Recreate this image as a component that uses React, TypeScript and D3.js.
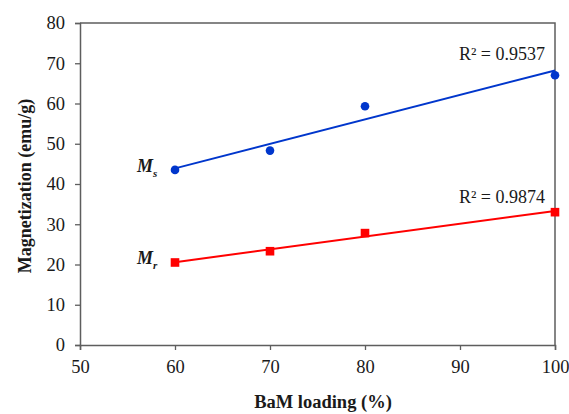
import React from "react";
import * as d3 from "d3";

const loading = [60, 70, 80, 100];
const msValues = [43.5, 48.3, 59.3, 67.0];
const mrValues = [20.5, 23.3, 27.8, 33.0];
const xTicks = [50, 60, 70, 80, 90, 100];
const yTicks = [0, 10, 20, 30, 40, 50, 60, 70, 80];
const r2Labels = ["R² = 0.9537", "R² = 0.9874"];

const width = 569, height = 414;
const margin = { left: 80, right: 14, top: 23, bottom: 69 };
const font = "Liberation Serif";

// least squares line through the points
const fit = (xs, ys) => {
  const mx = d3.mean(xs), my = d3.mean(ys);
  const sxy = d3.sum(xs, (x, i) => (x - mx) * (ys[i] - my));
  const sxx = d3.sum(xs, x => (x - mx) ** 2);
  const slope = sxy / sxx;
  return x => my + slope * (x - mx);
};

const App = () => {
  const ref = React.useRef(null);

  React.useEffect(() => {
    const svg = d3.select(ref.current);
    svg.selectAll("*").remove();
    const x = d3.scaleLinear([50, 100], [margin.left, width - margin.right]);
    const y = d3.scaleLinear([0, 80], [height - margin.bottom, margin.top]);
    const axisColor = "#5e5e5e";

    const xAxis = svg.append("g")
      .attr("transform", `translate(0,${height - margin.bottom})`)
      .call(d3.axisBottom(x).tickValues(xTicks).tickSize(5).tickPadding(10));
    const yAxis = svg.append("g")
      .attr("transform", `translate(${margin.left},0)`)
      .call(d3.axisLeft(y).tickValues(yTicks).tickSize(5).tickPadding(10));
    [xAxis, yAxis].forEach(g => {
      g.attr("font-family", font).attr("font-size", 18);
      g.select(".domain").attr("stroke", axisColor).attr("stroke-width", 1.5);
      g.selectAll(".tick line").attr("stroke", axisColor).attr("stroke-width", 1.3);
      g.selectAll(".tick text").attr("fill", "#1a1a1a")
        .style("font-family", font).style("font-size", "18.5px");
    });

    // frame top and right
    svg.append("path")
      .attr("d", `M${margin.left},${margin.top}H${width - margin.right}V${height - margin.bottom}`)
      .attr("fill", "none").attr("stroke", axisColor).attr("stroke-width", 1.5);

    const series = [
      { values: msValues, color: "#0036cc", shape: "circle", label: "s", r2: r2Labels[0], dy: 10 },
      { values: mrValues, color: "#ff0000", shape: "square", label: "r", r2: r2Labels[1], dy: 8 }
    ];

    series.forEach(s => {
      const f = fit(loading, s.values);
      svg.append("line")
        .attr("x1", x(60)).attr("y1", y(f(60)))
        .attr("x2", x(100)).attr("y2", y(f(100)))
        .attr("stroke", s.color).attr("stroke-width", 2);

      if (s.shape === "circle") {
        svg.selectAll(null).data(loading).join("circle")
          .attr("cx", d => x(d)).attr("cy", (d, i) => y(s.values[i]))
          .attr("r", 4.3).attr("fill", s.color);
      } else {
        svg.selectAll(null).data(loading).join("rect")
          .attr("x", d => x(d) - 4.3).attr("y", (d, i) => y(s.values[i]) - 4.3)
          .attr("width", 8.6).attr("height", 8.6).attr("fill", s.color);
      }

      svg.append("text")
        .attr("x", x(100) - 10).attr("y", y(f(100)) - s.dy)
        .attr("text-anchor", "end").style("font-family", font).style("font-size", "18px")
        .attr("fill", "#1a1a1a").text(s.r2);

      const lab = svg.append("text")
        .attr("x", x(60) - 38).attr("y", y(s.values[0]) + 2)
        .style("font-family", font).style("font-size", "18px").attr("font-weight", "bold")
        .attr("font-style", "italic").attr("fill", "#1a1a1a");
      lab.append("tspan").text("M");
      lab.append("tspan").style("font-size", "11px").attr("dy", 5).text(s.label);
    });

    svg.append("text")
      .attr("x", 323).attr("y", 408)
      .attr("text-anchor", "middle").style("font-family", font).style("font-size", "18.5px")
      .attr("font-weight", "bold").attr("fill", "#1a1a1a").text("BaM loading (%)");

    svg.append("text")
      .attr("transform", `translate(31,186) rotate(-90)`)
      .attr("text-anchor", "middle").style("font-family", font).style("font-size", "18px")
      .attr("font-weight", "bold").attr("fill", "#1a1a1a").text("Magnetization (emu/g)");
  }, []);

  return (
    <svg ref={ref} width={width} height={height}
      style={{ position: "absolute", left: 0, top: 0, background: "#fff" }} />
  );
};

export default App;
